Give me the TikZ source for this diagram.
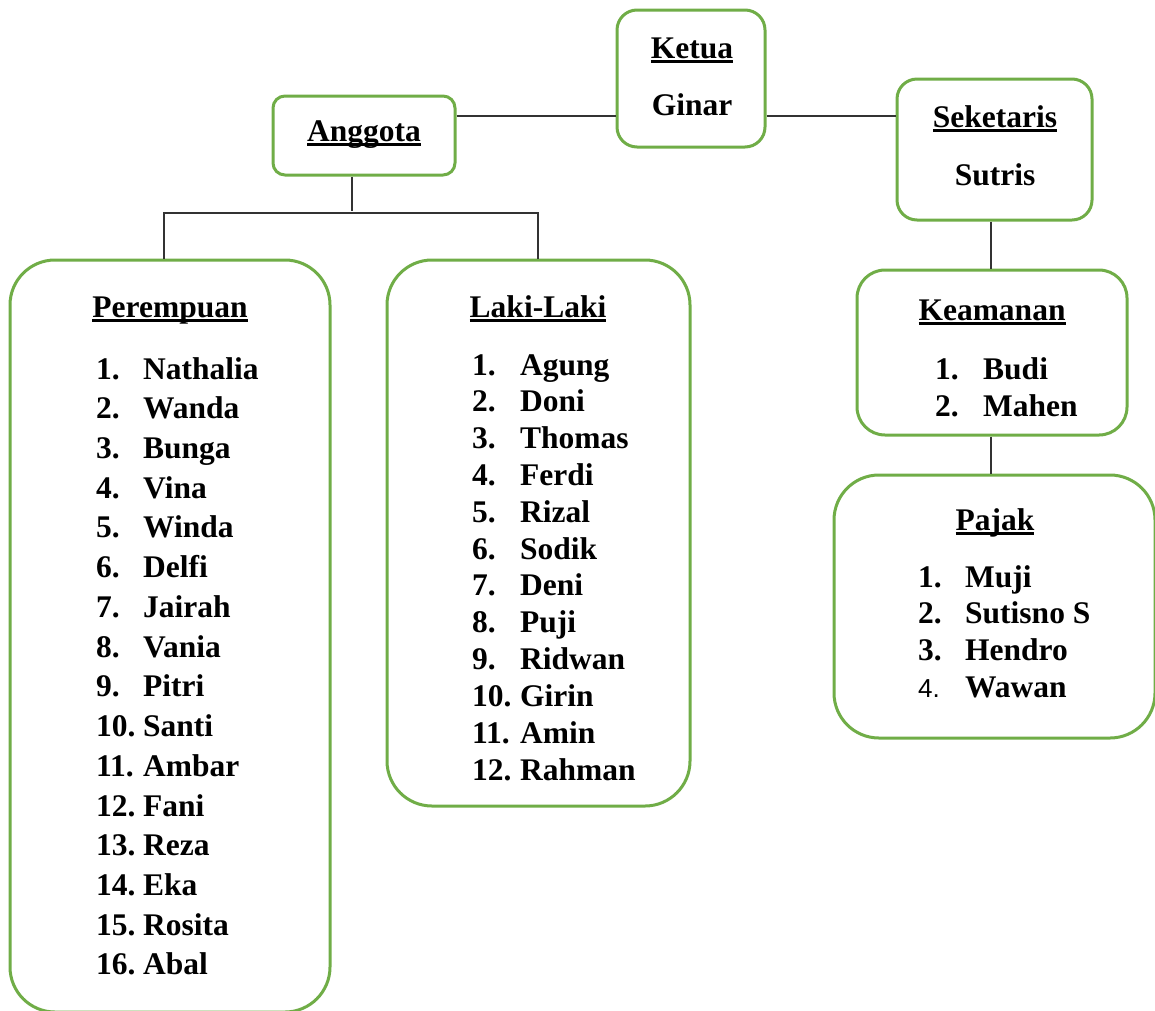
\documentclass[tikz,border=0pt]{standalone}
\usepackage{fontspec}
\setmainfont{Liberation Serif}
\newfontfamily\numsans{Liberation Sans}
\definecolor{boxgreen}{HTML}{70AD47}
\newcommand\ulword[1]{\setbox0\hbox{#1}\rlap{\rule[-5pt]{\wd0}{2.6pt}}\box0}
\tikzset{
  box/.style={draw=boxgreen, line width=3pt, fill=white, inner sep=0pt},
  conn/.style={draw=black!80, line width=1.4pt},
  txt/.style={font=\fontsize{31.5}{36}\selectfont\bfseries, inner sep=0pt, anchor=base},
  num/.style={txt, anchor=base west},
}
\begin{document}
\begin{tikzpicture}[x=1pt,y=-1pt]
\useasboundingbox (0,0) rectangle (1155,1010);
% boxes
\node[box, rounded corners=20pt, minimum width=148pt, minimum height=137pt] (ketua) at (691,78.5) {};
\node[box, rounded corners=12pt, minimum width=182pt, minimum height=79pt] (anggota) at (364,135.5) {};
\node[box, rounded corners=20pt, minimum width=195pt, minimum height=141pt] (seket) at (994.5,149.5) {};
\node[box, rounded corners=45pt, minimum width=320pt, minimum height=752pt] (perem) at (170,636) {};
\node[box, rounded corners=45pt, minimum width=303pt, minimum height=546pt] (laki) at (538.5,533) {};
\node[box, rounded corners=28pt, minimum width=270pt, minimum height=165pt] (keam) at (992,352.5) {};
\node[box, rounded corners=45pt, minimum width=321pt, minimum height=263pt] (pajak) at (994.5,606.5) {};
% connectors
\coordinate (bus) at (352,213);
\draw[conn] (anggota.east |- 0,116) -- (ketua.west |- 0,116);
\draw[conn] (ketua.east |- 0,116) -- (seket.west |- 0,116);
\draw[conn] (anggota.south -| bus) -- ([yshift=2pt]bus);
\draw[conn] (perem.north -| 164,0) -- (164,213) -- (538,213) -- (laki.north -| 538,0);
\draw[conn] (seket.south -| 991,0) -- (keam.north -| 991,0);
\draw[conn] (keam.south -| 991,0) -- (pajak.north -| 991,0);
% titles
\node[txt] (t1) at (692,58) {\ulword{Ketua}};
\node[txt] (t2) at (692,115) {Ginar};
\node[txt] (t3) at (364,141) {\ulword{Anggota}};
\node[txt] (t4) at (995,127) {\ulword{Seketaris}};
\node[txt] (t5) at (995,185) {Sutris};
\node[txt] (t6) at (170,317) {\ulword{Perempuan}};
\node[txt] (t7) at (538,317) {\ulword{Laki-Laki}};
\node[txt] (t8) at (992,320) {\ulword{Keamanan}};
\node[txt] (t9) at (995,530) {\ulword{Pajak}};
% Perempuan list
\foreach \n [count=\i] in {Nathalia,Wanda,Bunga,Vina,Winda,Delfi,Jairah,Vania,Pitri,Santi,Ambar,Fani,Reza,Eka,Rosita,Abal}{
  \node[num] (pn\i) at (96,{379+39.73*(\i-1)}) {\i.};
  \node[num] (pw\i) at (143,{379+39.73*(\i-1)}) {\n};
}
% Laki-Laki list
\foreach \n [count=\i] in {Agung,Doni,Thomas,Ferdi,Rizal,Sodik,Deni,Puji,Ridwan,Girin,Amin,Rahman}{
  \node[num] (ln\i) at (472,{375+36.82*(\i-1)}) {\i.};
  \node[num] (lw\i) at (520,{375+36.82*(\i-1)}) {\n};
}
% Keamanan list
\node[num] (kn1) at (935,379) {1.};
\node[num] (kw1) at (983,379) {Budi};
\node[num] (kn2) at (935,416) {2.};
\node[num] (kw2) at (983,416) {Mahen};
% Pajak list
\node[num] (jn1) at (918,587) {1.};
\node[num] (jw1) at (965,587) {Muji};
\node[num] (jn2) at (918,623.7) {2.};
\node[num] (jw2) at (965,623.7) {Sutisno S};
\node[num] (jn3) at (918,660.4) {3.};
\node[num] (jw3) at (965,660.4) {Hendro};
\node[inner sep=0pt, anchor=base west, font=\numsans\fontsize{26}{30}\selectfont] (jn4) at (918,697) {4.};
\node[num] (jw4) at (965,697) {Wawan};
\end{tikzpicture}
\end{document}
